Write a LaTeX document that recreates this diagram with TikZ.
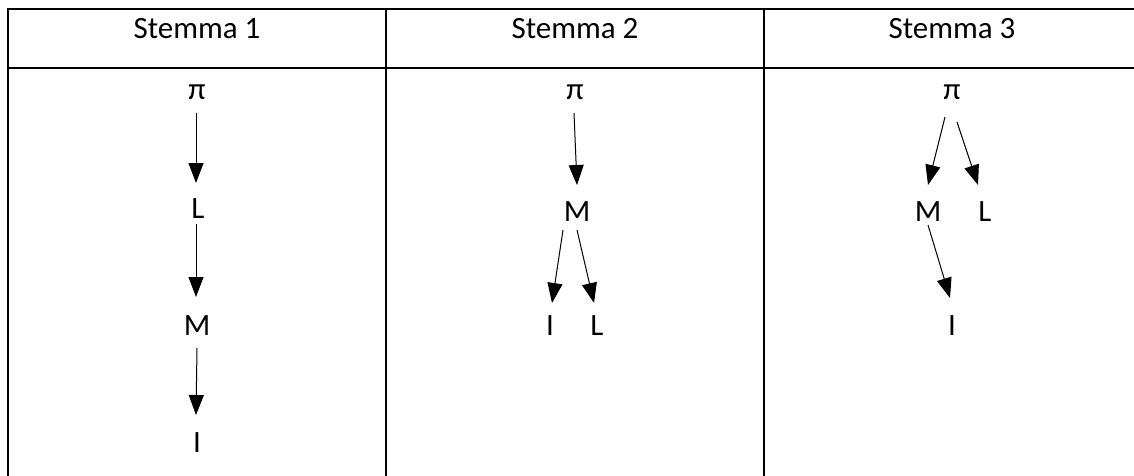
\documentclass[tikz,border=0pt]{standalone}
\usepackage{fontspec}
\setmainfont{Carlito}
\usetikzlibrary{arrows.meta}
\tikzset{
  lbl/.style={anchor=base, inner sep=0pt, font=\fontsize{31}{37}\selectfont},
  grid/.style={line width=2.6pt, line cap=rect},
  arr/.style={line width=1pt, -{Triangle[width=15pt,length=20pt]}}
}
\begin{document}
\begin{tikzpicture}[x=1pt,y=-1pt]
\useasboundingbox (0,0) rectangle (1134,476);
% table
\draw[grid] (8,9) -- (1134,9);
\draw[grid] (8,68) -- (1134,68);
\draw[grid] (8,9) -- (8,476);
\draw[grid] (386,9) -- (386,476);
\draw[grid] (764,9) -- (764,476);
% headers
\node[lbl] (h1) at (197,39) {Stemma 1};
\node[lbl] (h2) at (575,39) {Stemma 2};
\node[lbl] (h3) at (952,39) {Stemma 3};
% stemma 1
\node[lbl] (p1) at (197,100) {π};
\node[lbl] (L1) at (198,218) {L};
\node[lbl] (M1) at (197,335) {M};
\node[lbl] (I1) at (197,452) {I};
\draw[arr] ([xshift=-1pt,yshift=-13pt]p1.base) -- ([xshift=-2pt,yshift=35pt]L1.base);
\draw[arr] ([xshift=-2pt,yshift=-6pt]L1.base) -- ([xshift=-1pt,yshift=38pt]M1.base);
\draw[arr] ([xshift=0pt,yshift=-13pt]M1.base) -- ([xshift=-1pt,yshift=37pt]I1.base);
% stemma 2
\node[lbl] (p2) at (575,100) {π};
\node[lbl] (M2) at (577,221) {M};
\node[lbl] (I2) at (550,335) {I};
\node[lbl] (L2) at (597,335) {L};
\draw[arr] ([xshift=-1pt,yshift=-13pt]p2.base) -- ([xshift=0pt,yshift=36pt]M2.base);
\draw[arr] ([xshift=-14pt,yshift=-9pt]M2.base) -- ([xshift=2pt,yshift=32pt]I2.base);
\draw[arr] ([xshift=0pt,yshift=-9pt]M2.base) -- ([xshift=-3pt,yshift=32pt]L2.base);
% stemma 3
\node[lbl] (p3) at (952,100) {π};
\node[lbl] (M3) at (928,221) {M};
\node[lbl] (L3) at (985,221) {L};
\node[lbl] (I3) at (952,335) {I};
\draw[arr] ([xshift=-7pt,yshift=-17pt]p3.base) -- ([xshift=0pt,yshift=36pt]M3.base);
\draw[arr] ([xshift=5pt,yshift=-22pt]p3.base) -- ([xshift=-7pt,yshift=36pt]L3.base);
\draw[arr] ([xshift=0pt,yshift=-4pt]M3.base) -- ([xshift=-2pt,yshift=37pt]I3.base);
\end{tikzpicture}
\end{document}
